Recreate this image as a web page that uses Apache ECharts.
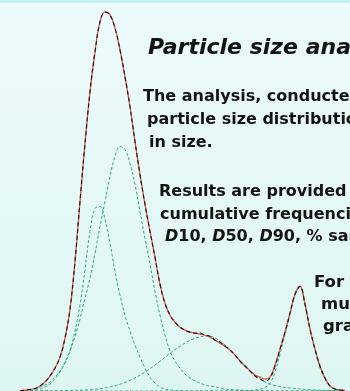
<!DOCTYPE html>
<html><head><meta charset="utf-8">
<script src="https://cdn.jsdelivr.net/npm/echarts@6/dist/echarts.min.js"></script>
<style>html,body{margin:0;padding:0;background:#e8f9f8;overflow:hidden}#c{width:350px;height:391px}</style>
</head><body><div id="c"></div><script>
// particle size (arbitrary units along x)
const sizes = [20,25,30,35,40,45,50,55,60,65,70,75,80,85,90,95,100,105,110,115,120,125,130,135,140,145,150,155,160,165,170,175,180,185,190,195,200,205,210,215,220,225,230,235,240,245,250,255,260,265,270,275,280,285,290,295,300,305,310,315,320,325,330,335,340,345];
// measured distribution (red)
const measured = [0.3,0.8,1.5,2.5,5,9,15,23,34,53,82,130,190,248,300,340,370,380,377,364,342,315,285,250,217,187,160,134,107,88,76,69,64,61,59,58,57,56,54,51,48,45,41,36,30,25,20,16,14,12,14,26,42,59,78,97,105,87,62,42,25,13,5,2,1,0.5];
// fitted sum (black dashed)
const fitted = [0.3,0.8,1.5,2.5,5,9,15,23,34,53,82,130,190,248,300,340,370,380,377,364,342,315,285,250,217,187,160,134,107,88,76,69,64,61,59,58,58,56,55,51,49,45,41,36,30,25,20,15,12,10,13,25,42,59,78,97,105,87,62,42,25,13,5,2,1,0.5];
// fitted components (green dashed)
const compA = [0,0.3,0.6,1,2,4,7,12,19,29,41,60,86,122,160,183,185,172,148,120,96,76,60,46,34,23,14,8,4,2,1,0.5,0.3,0.1,0,0,0,0,0,0,0,0,0,0,0,0,0,0,0,0,0,0,0,0,0,0,0,0,0,0,0,0,0,0,0,0];
const compB = [0.3,0.6,1,2,4,6,9,14,20,28,40,55,72,93,113,138,165,190,215,235,245,242,228,207,180,153,127,100,76,56,40,30,23,17,13,10,8,6,5,4,3,2,1.5,1.2,1,0.7,0.5,0.3,0.2,0.1,0,0,0,0,0,0,0,0,0,0,0,0,0,0,0,0];
const compC = [0,0,0,0,0.1,0.15,0.2,0.25,0.3,0.4,0.5,0.6,0.8,1,1.3,1.7,2.3,3.1,4.1,5.3,6.8,8.6,10.7,13.2,15.9,19,22.4,26,29.8,33.8,37.7,41.5,44.9,48,50.8,52.8,54.3,55,54.9,53,50.3,46,41.5,36,30.8,25.5,20.5,16,12.3,9.2,7,5.5,4.5,3.6,3,2.4,2,1.6,1.3,1,0.8,0.6,0.5,0.4,0.3,0.2];
const compD = [0,0,0,0,0,0,0,0,0,0,0,0,0,0,0,0,0,0,0,0,0,0,0,0,0,0,0,0,0,0,0,0,0,0,0,0,0,0,0,0,0,0,0,0,0.2,0.3,0.5,1,1.6,3.5,8,19,37,57,77,96,104,86,62,41,23,12,5,2,0.8,0.3];

const titleText = 'Particle size analysis';
const introLines = ['The analysis, conducted by', 'particle size distribution of', 'in size.'];
const resultLines = ['Results are provided as', 'cumulative frequencies', '{i|D}10, {i|D}50, {i|D}90, % sand'];
const noteLines = ['For', 'multimodal', 'granulometric'];

const pairs = arr => sizes.map((x, i) => [x, arr[i]]);
const chart = echarts.init(document.getElementById('c'), null, {renderer: 'canvas'});

const green = '#30a87a';
const compSeries = [compA, compB, compC, compD].map((arr, k) => ({
  type: 'line', name: 'comp' + k, data: pairs(arr), smooth: 0.4, symbol: 'none',
  lineStyle: {color: green, width: 1, type: [3, 2]}, z: 2
}));

const bodyFont = 'bold 16px "DejaVu Sans"';
function textEl(x, y, text, font, extra) {
  return {type: 'text', x: x, y: y, z: 10, style: Object.assign({text: text, font: font, fill: '#141414', verticalAlign: 'middle', textVerticalAlign: 'middle'}, extra || {})};
}
const introPos = [[143, 97], [147, 120], [149, 143]];
const resultPos = [[159, 192], [160, 215], [165, 237]];
const notePos = [[314, 283], [321, 305], [323, 327]];
const graphics = [
  {type: 'rect', shape: {x: 0, y: 0, width: 350, height: 3}, style: {fill: '#c6f1f3'}, z: 1},
  textEl(148, 48, titleText, 'italic bold 22px "DejaVu Sans"')
];
introLines.forEach((t, i) => graphics.push(textEl(introPos[i][0], introPos[i][1], t, bodyFont)));
resultLines.forEach((t, i) => graphics.push(textEl(resultPos[i][0], resultPos[i][1], t, bodyFont,
  {rich: {i: {fontStyle: 'italic', fontWeight: 'bold', fontSize: 16, fontFamily: 'DejaVu Sans', fill: '#141414'}}})));
noteLines.forEach((t, i) => graphics.push(textEl(notePos[i][0], notePos[i][1], t, 'bold 16.5px "DejaVu Sans"')));

chart.setOption({
  animation: false,
  backgroundColor: {type: 'linear', x: 0, y: 0, x2: 0, y2: 1, colorStops: [{offset: 0, color: '#ecfbfb'}, {offset: 1, color: '#def6f1'}]},
  grid: {left: 0, right: 0, top: 0, bottom: -1},
  xAxis: {type: 'value', min: 0, max: 350, show: false, splitLine: {show: false}},
  yAxis: {type: 'value', min: 0, max: 392, show: false, splitLine: {show: false}},
  graphic: graphics,
  series: compSeries.concat([
    {type: 'line', name: 'measured', data: pairs(measured), smooth: 0.4, symbol: 'none',
     lineStyle: {color: '#d8504c', width: 1.3}, z: 3},
    {type: 'line', name: 'fitted', data: pairs(fitted), smooth: 0.4, symbol: 'none',
     lineStyle: {color: '#161616', width: 1.1, type: [4, 3]}, z: 4}
  ])
});
</script></body></html>
